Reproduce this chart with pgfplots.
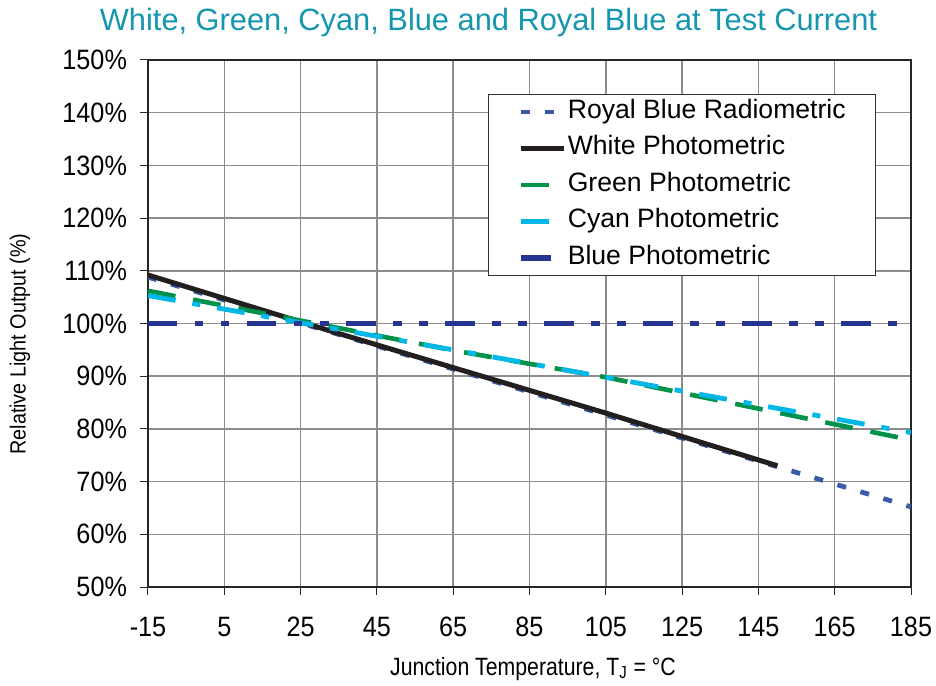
\documentclass[border=0pt]{standalone}
\usepackage{fontspec}
\setmainfont{Liberation Sans}
\newfontfamily\tickfont[FakeStretch=0.9]{Liberation Sans}
\newfontfamily\xlabfont[FakeStretch=0.85]{Liberation Sans}
\newfontfamily\ylabfont[FakeStretch=0.9]{Liberation Sans}
\usepackage{pgfplots}
\pgfplotsset{compat=1.18}

\definecolor{titleteal}{HTML}{1496AE}
\definecolor{royalblue}{HTML}{3B5BA9}
\definecolor{navyblue}{HTML}{253391}
\definecolor{ledgreen}{HTML}{00924A}
\definecolor{ledcyan}{HTML}{00B7E8}
\definecolor{ledblack}{HTML}{231F20}

\begin{document}
\begin{tikzpicture}
  \begin{axis}[
    scale only axis,
    width=381.5pt, height=263.5pt,
    xmin=-15, xmax=185, ymin=50, ymax=150,
    xtick={-15,5,...,185},
    xticklabels={-15,5,25,45,65,85,105,125,145,165,185},
    ytick={50,60,...,150},
    yticklabel={\pgfmathprintnumber{\tick}\%},
    /pgf/number format/assume math mode=true,
    ticklabel style={font=\tickfont\fontsize{14}{16}\selectfont},
    xticklabel style={yshift=-7.5pt},
    yticklabel style={xshift=-3pt},
    tick align=outside, xtick pos=bottom, ytick pos=left,
    major tick length=4pt,
    tick style={draw=black!85, line width=0.5pt},
    grid=major,
    grid style={draw=gray!90, line width=0.75pt},
    axis line style={draw=black!85, line width=0.6pt},
    every axis title shift=0pt,
    title={White, Green, Cyan, Blue and Royal Blue at Test Current},
    title style={font=\fontsize{15.4}{18}\selectfont, color=titleteal,
      at={(rel axis cs:0.4463,1.0569)}, anchor=base, inner sep=0pt},
    xlabel={Junction Temperature, T\textsubscript{J} = °C},
    xlabel style={font=\xlabfont\fontsize{12.5}{14}\selectfont,
      at={(rel axis cs:0.5046,-0.167)}, anchor=base, inner sep=0pt},
    ylabel={Relative Light Output (\%)},
    ylabel style={font=\ylabfont\fontsize{11}{13}\selectfont,
      at={(rel axis cs:-0.1678,0.461)}, anchor=center, inner sep=0pt},
    legend style={at={(rel axis cs:0.4456,0.9355)}, anchor=north west,
      draw=black!80, line width=0.6pt, inner xsep=15pt, inner ysep=2.25pt,
      row sep=5.25pt, column sep=0.5pt,
      font=\fontsize{13.3}{15}\selectfont,
      nodes={inner sep=0pt, text height=9.6pt, text depth=3.4pt},
      cells={anchor=west}},
    legend image code/.code={\draw[#1] (0pt,0pt) -- (21.5pt,0pt);},
  ]
    % Royal Blue Radiometric
    \addplot[royalblue, line width=2.4pt, dash pattern=on 4.5pt off 7.5pt]
      coordinates {(-15,108.8) (25,100.1) (85,87.0) (145,73.9) (185,65.2)};
    % White Photometric
    \addplot[ledblack, line width=2.5pt]
      coordinates {(-15,109.2) (35,98.1) (105,83.0) (150,73.0)};
    % Green Photometric
    \addplot[ledgreen, line width=2.3pt, dash pattern=on 14pt off 9pt]
      coordinates {(-15,106.2) (65,94.9) (105,89.8) (185,77.9)};
    % Cyan Photometric
    \addplot[ledcyan, line width=2.4pt, dash pattern=on 14pt off 8.5pt on 4pt off 8.5pt]
      coordinates {(-15,105.3) (65,95.0) (105,89.8) (185,79.3)};
    % Blue Photometric
    \addplot[navyblue, line width=2.6pt,
      dash pattern=on 14.75pt off 8.75pt on 4.25pt off 8.75pt on 4.25pt off 8.75pt]
      coordinates {(-15,100) (185,100)};
    \legend{Royal Blue Radiometric, White Photometric, Green Photometric,
      Cyan Photometric, Blue Photometric}
  \end{axis}
  \pgfresetboundingbox
  \path ([shift={(-74pt,-49pt)}]current axis.south west)
    rectangle ([shift={(12.5pt,30pt)}]current axis.north east);
\end{tikzpicture}
\end{document}
